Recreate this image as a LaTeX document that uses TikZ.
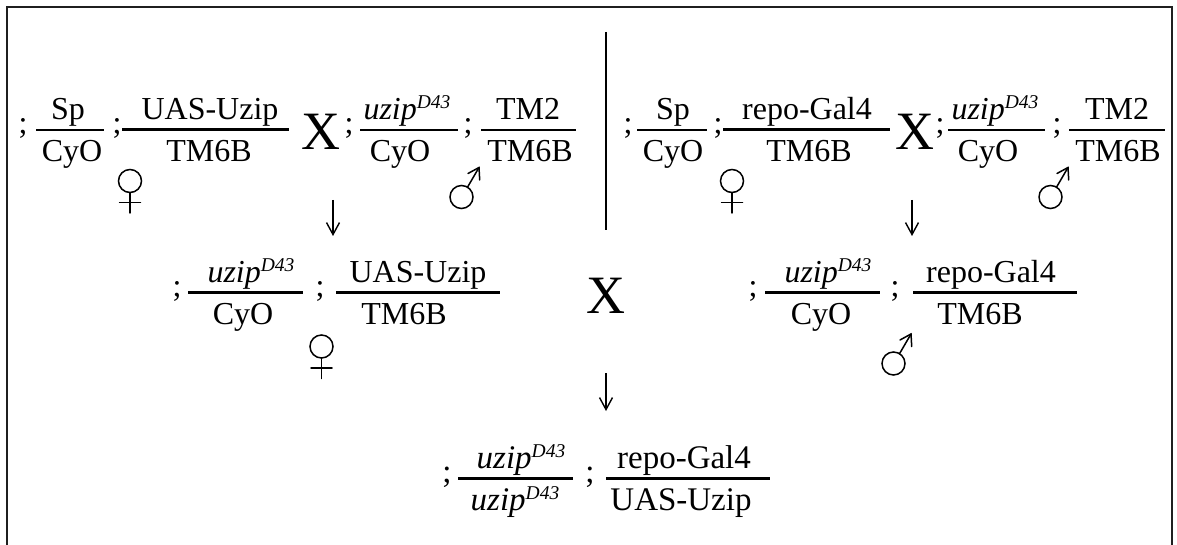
\documentclass[tikz,border=0pt]{standalone}
\usepackage{fontspec}
\setmainfont{Liberation Serif}
\usetikzlibrary{arrows.meta}

% italic allele with its superscript
\newcommand{\uzipD}{\textit{uzip}\raisebox{11pt}{\fontsize{19.5}{20}\selectfont\textit{D43}}}

% one genotype fraction: name, bar left x, bar right x, bar y, bar style,
% numerator x, numerator, denominator x, denominator
\newcommand{\genotype}[9]{%
  \coordinate (#1-l) at (#2,#4);
  \coordinate (#1-r) at (#3,#4);
  \draw[#5] (#1-l) -- (#1-r);
  \node[gene] (#1-num) at (#6,#4-10) {#7};
  \node[gene] (#1-den) at (#8,#4+32) {#9};
}

\tikzset{
  gene/.style={anchor=base, inner sep=0pt, font=\fontsize{32}{36}\selectfont},
  semi/.style={gene},
  crosssign/.style={anchor=base, inner sep=0pt, font=\fontsize{54}{60}\selectfont},
  thinbar/.style={line width=2.2pt},
  thickbar/.style={line width=3pt},
  frameline/.style={line width=2.6pt, black!88},
  divider/.style={line width=2.6pt},
  down/.style={line width=1.4pt, -{Straight Barb[length=12pt,width=13pt,line width=1.4pt]}},
  sexline/.style={line width=1.5pt, line cap=round},
  % Venus sign, placed by the centre of its ring
  female/.pic={
    \draw[sexline] (0,0) circle[radius=11.5];
    \draw[sexline] (0,11.5) -- (0,32);
    \draw[sexline] (-10.5,21.5) -- (10.5,21.5);
  },
  % Mars sign, placed by the centre of its ring
  male/.pic={
    \draw[sexline] (0,0) circle[radius=11.5];
    \draw[sexline] (6,-9.8) -- (17.5,-29.5);
    \draw[sexline] (6.5,-23.5) -- (17.5,-29.5) -- (18.2,-17);
  },
}

\begin{document}
\begin{tikzpicture}[x=1pt, y=-1pt]
\useasboundingbox (0,0) rectangle (1177,545);

% open frame
\coordinate (fbl) at (7,546);
\coordinate (ftl) at (7,7);
\coordinate (ftr) at (1172,7);
\coordinate (fbr) at (1172,546);
\draw[frameline] (fbl) -- (ftl) -- (ftr) -- (fbr);

% ---------- parental crosses ----------
% left cross
\node[semi] (s1) at (23,134) {;};
\genotype{a1}{36}{104}{130}{thinbar}{68}{Sp}{72}{CyO}
\node[semi] (s2) at (117,134) {;};
\genotype{a2}{122}{289}{130}{thickbar}{210}{UAS-Uzip}{209}{TM6B}
\pic (f1) at (130,181) {female};
\node[crosssign] (x1) at (321,150) {X};
\node[semi] (s3) at (349,134) {;};
\genotype{a3}{360}{458}{130}{thinbar}{407}{\uzipD}{400}{CyO}
\node[semi] (s4) at (468,134) {;};
\genotype{a4}{481}{576}{130}{thinbar}{528}{TM2}{530}{TM6B}
\pic (m1) at (461.5,197) {male};

% separator
\coordinate (dtop) at (606,32);
\coordinate (dbot) at (606,230);
\draw[divider] (dtop) -- (dbot);

% right cross
\node[semi] (s5) at (628,134) {;};
\genotype{b1}{637}{707}{130}{thinbar}{673}{Sp}{673}{CyO}
\node[semi] (s6) at (718,134) {;};
\genotype{b2}{723}{890}{130}{thickbar}{807}{repo-Gal4}{809}{TM6B}
\pic (f2) at (732,181) {female};
\node[crosssign] (x2) at (915,150) {X};
\node[semi] (s7) at (940,134) {;};
\genotype{b3}{948}{1045}{130}{thinbar}{995}{\uzipD}{988}{CyO}
\node[semi] (s8) at (1057,134) {;};
\genotype{b4}{1069}{1165}{130}{thinbar}{1117}{TM2}{1118}{TM6B}
\pic (m2) at (1050.5,197) {male};

% arrows to the first progeny
\coordinate (al-top) at (333,200);
\coordinate (al-bot) at (333,236);
\draw[down] (al-top) -- (al-bot);
\coordinate (ar-top) at (912,200);
\coordinate (ar-bot) at (912,236);
\draw[down] (ar-top) -- (ar-bot);

% ---------- first progeny ----------
\node[semi] (s9) at (177,296) {;};
\genotype{c1}{188}{303}{292}{thickbar}{251}{\uzipD}{243}{CyO}
\node[semi] (s10) at (320,296) {;};
\genotype{c2}{336}{500}{292}{thickbar}{418}{UAS-Uzip}{404}{TM6B}
\pic (f3) at (321.5,346.5) {female};
\node[crosssign] (x3) at (606,313) {X};
\node[semi] (s11) at (753,296) {;};
\genotype{d1}{765}{880}{292}{thickbar}{828}{\uzipD}{821}{CyO}
\node[semi] (s12) at (895,296) {;};
\genotype{d2}{913}{1077}{292}{thickbar}{991}{repo-Gal4}{980}{TM6B}
\pic (m3) at (893.5,363.5) {male};

% arrow to the final genotype
\coordinate (ac-top) at (606,373);
\coordinate (ac-bot) at (606,411);
\draw[down] (ac-top) -- (ac-bot);

% ---------- final genotype ----------
\begin{scope}[gene/.append style={font=\fontsize{33}{38}\selectfont}]
\node[semi] (s13) at (447,482) {;};
\genotype{e1}{458}{573}{478}{thickbar}{521}{\uzipD}{515}{\uzipD}
\node[semi] (s14) at (590,482) {;};
\genotype{e2}{606}{770}{478}{thickbar}{684}{repo-Gal4}{681}{UAS-Uzip}
\end{scope}
\end{tikzpicture}
\end{document}
